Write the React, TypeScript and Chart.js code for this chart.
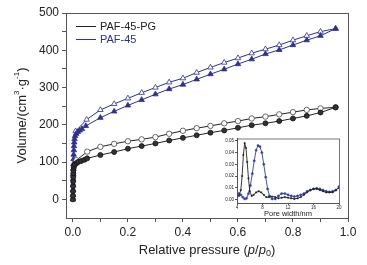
import React, { useEffect, useRef } from "react";
import { Chart, registerables } from "chart.js";
Chart.register(...registerables);

// ---- Main isotherm data ----
const pgAdsP = [0.0002, 0.0004, 0.0006, 0.0008, 0.001, 0.0013, 0.0016, 0.002, 0.003, 0.004, 0.008, 0.015, 0.02, 0.03, 0.042, 0.052, 0.1, 0.15, 0.2, 0.25, 0.3, 0.35, 0.4, 0.45, 0.5, 0.55, 0.6, 0.65, 0.7, 0.75, 0.8, 0.85, 0.9, 0.955];
const pgAdsV = [0, 10, 22, 35, 48, 60, 70, 78, 85, 90, 94, 98, 101, 103, 106, 110, 119, 127, 136, 143, 150, 158, 165, 172, 179, 185, 192, 199, 204, 210, 217, 224, 233, 247];
const pgDesP = [0.955, 0.9, 0.85, 0.8, 0.75, 0.7, 0.65, 0.6, 0.55, 0.5, 0.45, 0.4, 0.35, 0.3, 0.25, 0.2, 0.15, 0.1, 0.052, 0.013];
const pgDesV = [247, 244, 240, 234, 228, 222, 217, 210, 204, 197, 191, 184, 176, 167, 161, 156, 149, 141, 128, 105];

const pafAdsP = [0.0002, 0.0004, 0.0006, 0.0008, 0.001, 0.0013, 0.0016, 0.002, 0.0025, 0.003, 0.0035, 0.004, 0.005, 0.006, 0.008, 0.012, 0.018, 0.025, 0.033, 0.047, 0.1, 0.15, 0.2, 0.25, 0.3, 0.35, 0.4, 0.45, 0.5, 0.55, 0.6, 0.65, 0.7, 0.75, 0.8, 0.85, 0.9, 0.955];
const pafAdsV = [0, 12, 25, 40, 55, 68, 82, 95, 108, 120, 132, 143, 153, 162, 170, 176, 181, 185, 189, 197, 219, 236, 252, 267, 282, 296, 308, 322, 336, 349, 363, 376, 390, 401, 414, 427, 439, 458];
const pafDesP = [0.955, 0.9, 0.85, 0.8, 0.75, 0.7, 0.65, 0.6, 0.55, 0.5, 0.45, 0.4, 0.35, 0.3, 0.25, 0.2, 0.15, 0.1, 0.05, 0.01];
const pafDesV = [458, 450, 439, 427, 414, 403, 392, 379, 367, 354, 340, 325, 314, 300, 286, 271, 256, 240, 214, 183];

const xTicks = [0, 0.1, 0.2, 0.3, 0.4, 0.5, 0.6, 0.7, 0.8, 0.9, 1.0];
const yTicks = [0, 50, 100, 150, 200, 250, 300, 350, 400, 450, 500];

// ---- Inset pore size distribution ----
const psdPgW = [4.0, 4.3, 4.6, 4.8, 5.0, 5.2, 5.4, 5.6, 5.8, 6.0, 6.3, 6.6, 7.0, 7.4, 7.8, 8.2, 8.6, 9.0, 9.5, 10.0, 10.5, 11.0, 11.5, 12.0, 12.5, 13.0, 13.5, 14.0, 14.5, 15.0, 15.5, 16.0, 16.5, 17.0, 17.5, 18.0, 18.5, 19.0, 19.5, 20.0];
const psdPgV = [0.004, 0.003, 0.008, 0.02, 0.038, 0.048, 0.044, 0.032, 0.018, 0.007, 0.003, 0.004, 0.006, 0.007, 0.006, 0.004, 0.002, 0.002, 0.0025, 0.002, 0.001, 0.0015, 0.002, 0.0015, 0.001, 0.0005, 0.001, 0.002, 0.004, 0.006, 0.008, 0.009, 0.009, 0.008, 0.007, 0.006, 0.006, 0.006, 0.008, 0.01];
const psdPafW = [4.0, 4.3, 4.6, 4.9, 5.2, 5.5, 5.8, 6.1, 6.4, 6.7, 7.0, 7.3, 7.6, 7.9, 8.2, 8.5, 8.8, 9.1, 9.5, 10.0, 10.5, 11.0, 11.5, 12.0, 12.5, 13.0, 13.5, 14.0, 14.5, 15.0, 15.5, 16.0, 16.5, 17.0, 17.5, 18.0, 18.5, 19.0, 19.5, 20.0];
const psdPafV = [0.005, 0.005, 0.004, 0.002, 0.0005, 0.001, 0.005, 0.012, 0.022, 0.033, 0.042, 0.046, 0.045, 0.04, 0.03, 0.019, 0.009, 0.003, 0.0005, 0.0005, 0.003, 0.005, 0.005, 0.004, 0.003, 0.0025, 0.003, 0.004, 0.005, 0.007, 0.008, 0.009, 0.0095, 0.009, 0.008, 0.007, 0.0065, 0.007, 0.008, 0.011];
const insetXTicks = [4, 8, 12, 16, 20];
const insetYTicks = [0, 0.01, 0.02, 0.03, 0.04, 0.05];

const legendLabels = ["PAF-45-PG", "PAF-45"];

const BLUE = "#2E3192";
const BLACK = "#222222";
const FONT = 'Arial, "Liberation Sans", sans-serif';

const pts = (xs: number[], ys: number[]) => xs.map((x, i) => ({ x, y: ys[i] }));

type Seg = { t: string; italic?: boolean; size: number; dy?: number };
function drawRich(ctx: CanvasRenderingContext2D, segs: Seg[], cx: number, cy: number) {
  let total = 0;
  const widths = segs.map((s) => {
    ctx.font = `${s.italic ? "italic " : ""}${s.size}px ${FONT}`;
    const w = ctx.measureText(s.t).width;
    total += w;
    return w;
  });
  let x = cx - total / 2;
  ctx.textBaseline = "middle";
  ctx.textAlign = "left";
  segs.forEach((s, i) => {
    ctx.font = `${s.italic ? "italic " : ""}${s.size}px ${FONT}`;
    ctx.fillText(s.t, x, cy + (s.dy || 0));
    x += widths[i];
  });
}

const mainPlugin = {
  id: "mainDecor",
  afterDraw(chart: any) {
    const { ctx, chartArea } = chart;
    const { left, right, top, bottom } = chartArea;
    ctx.save();
    ctx.strokeStyle = "#555";
    ctx.lineWidth = 1;
    ctx.strokeRect(left + 0.5, top + 0.5, right - left, bottom - top);
    // x title
    ctx.fillStyle = "#222";
    drawRich(
      ctx,
      [
        { t: "Relative pressure (", size: 13 },
        { t: "p", italic: true, size: 13 },
        { t: "/", size: 13 },
        { t: "p", italic: true, size: 13 },
        { t: "0", size: 9, dy: 4 },
        { t: ")", size: 13 },
      ],
      (left + right) / 2,
      250
    );
    // y title
    ctx.save();
    ctx.translate(22, (top + bottom) / 2);
    ctx.rotate(-Math.PI / 2);
    drawRich(
      ctx,
      [
        { t: "Volume/(cm", size: 13 },
        { t: "3", size: 8, dy: -5 },
        { t: "·g", size: 13 },
        { t: "-1", size: 8, dy: -5 },
        { t: ")", size: 13 },
      ],
      0,
      0
    );
    ctx.restore();
    // legend
    const colors = [BLACK, BLUE];
    const ys = [26, 39];
    legendLabels.forEach((lab, i) => {
      ctx.strokeStyle = colors[i];
      ctx.lineWidth = 1;
      ctx.beginPath();
      ctx.moveTo(76, ys[i] + 0.5);
      ctx.lineTo(96, ys[i] + 0.5);
      ctx.stroke();
      ctx.fillStyle = i === 0 ? "#222" : BLUE;
      ctx.font = `11px ${FONT}`;
      ctx.textAlign = "left";
      ctx.textBaseline = "middle";
      ctx.fillText(lab, 100, ys[i] + 1);
    });
    ctx.restore();
  },
};

const insetPlugin = {
  id: "insetDecor",
  afterDraw(chart: any) {
    const { ctx, chartArea } = chart;
    const { left, right, top, bottom } = chartArea;
    ctx.save();
    ctx.strokeStyle = "#555";
    ctx.lineWidth = 0.8;
    ctx.strokeRect(left + 0.5, top + 0.5, right - left, bottom - top);
    ctx.fillStyle = "#222";
    drawRich(ctx, [{ t: "Pore width/nm", size: 7.5 }], (left + right) / 2, 79.5);
    ctx.restore();
  },
};

export default function App() {
  const mainRef = useRef<HTMLCanvasElement>(null);
  const insetRef = useRef<HTMLCanvasElement>(null);

  useEffect(() => {
    const main = new Chart(mainRef.current!, {
      type: "scatter",
      data: {
        datasets: [
          {
            label: "PAF-45-PG adsorption",
            data: pts(pgAdsP, pgAdsV),
            showLine: true,
            borderColor: BLACK,
            borderWidth: 1,
            pointStyle: "circle",
            pointRadius: 2.5,
            pointBackgroundColor: "#333",
            pointBorderColor: "#111",
            pointBorderWidth: 0.8,
          },
          {
            label: "PAF-45-PG desorption",
            data: pts(pgDesP, pgDesV),
            showLine: true,
            borderColor: BLACK,
            borderWidth: 1,
            pointStyle: "circle",
            pointRadius: 2.7,
            pointBackgroundColor: "#fff",
            pointBorderColor: "#444",
            pointBorderWidth: 0.8,
          },
          {
            label: "PAF-45 adsorption",
            data: pts(pafAdsP, pafAdsV),
            showLine: true,
            borderColor: BLUE,
            borderWidth: 1,
            pointStyle: "triangle",
            pointRadius: 3.2,
            pointBackgroundColor: BLUE,
            pointBorderColor: BLUE,
            pointBorderWidth: 0.8,
          },
          {
            label: "PAF-45 desorption",
            data: pts(pafDesP, pafDesV),
            showLine: true,
            borderColor: BLUE,
            borderWidth: 1,
            pointStyle: "triangle",
            pointRadius: 3.2,
            pointBackgroundColor: "#fff",
            pointBorderColor: BLUE,
            pointBorderWidth: 0.8,
          },
        ],
      },
      options: {
        animation: false,
        responsive: false,
        maintainAspectRatio: false,
        layout: { padding: { left: 0, right: 19, top: 13, bottom: 0 } },
        plugins: { legend: { display: false }, tooltip: { enabled: false } },
        scales: {
          x: {
            type: "linear",
            min: -0.025,
            max: 1.0,
            afterBuildTicks: (s: any) => {
              s.ticks = xTicks.map((v) => ({ value: v }));
            },
            afterFit: (s: any) => {
              s.height = 47;
            },
            ticks: {
              autoSkip: false,
              maxRotation: 0,
              padding: 3,
              color: "#222",
              font: { family: FONT, size: 12 },
              callback: (v: any) => (Math.round(Number(v) * 10) % 2 === 0 ? Number(v).toFixed(1) : ""),
            },
            grid: { drawOnChartArea: false, tickLength: 4, color: "#555" },
            border: { color: "#555" },
          },
          y: {
            type: "linear",
            min: -50,
            max: 500,
            afterBuildTicks: (s: any) => {
              s.ticks = yTicks.map((v) => ({ value: v }));
            },
            afterFit: (s: any) => {
              s.width = 66;
            },
            ticks: {
              autoSkip: false,
              padding: 3,
              color: "#222",
              font: { family: FONT, size: 12 },
              callback: (v: any) => (Number(v) % 100 === 0 ? String(v) : ""),
            },
            grid: { drawOnChartArea: false, tickLength: 4, color: "#555" },
            border: { color: "#555" },
          },
        },
      },
      plugins: [mainPlugin],
    } as any);

    const inset = new Chart(insetRef.current!, {
      type: "scatter",
      data: {
        datasets: [
          {
            label: "PAF-45-PG PSD",
            data: pts(psdPgW, psdPgV),
            showLine: true,
            borderColor: BLACK,
            borderWidth: 0.9,
            pointStyle: "rect",
            pointRadius: 0.9,
            pointBackgroundColor: BLACK,
            pointBorderColor: BLACK,
            pointBorderWidth: 0.5,
          },
          {
            label: "PAF-45 PSD",
            data: pts(psdPafW, psdPafV),
            showLine: true,
            borderColor: "#3340A8",
            borderWidth: 0.9,
            pointStyle: "circle",
            pointRadius: 1.1,
            pointBackgroundColor: "#3340A8",
            pointBorderColor: "#3340A8",
            pointBorderWidth: 0.5,
          },
        ],
      },
      options: {
        animation: false,
        responsive: false,
        maintainAspectRatio: false,
        layout: { padding: { left: 0, right: 5, top: 4, bottom: 0 } },
        plugins: { legend: { display: false }, tooltip: { enabled: false } },
        scales: {
          x: {
            type: "linear",
            min: 4,
            max: 20,
            afterBuildTicks: (s: any) => {
              s.ticks = insetXTicks.map((v) => ({ value: v }));
            },
            afterFit: (s: any) => {
              s.height = 15;
            },
            ticks: {
              autoSkip: false,
              maxRotation: 0,
              padding: 0,
              color: "#222",
              font: { family: FONT, size: 4.5 },
            },
            grid: { drawOnChartArea: false, tickLength: 2, color: "#555" },
            border: { color: "#555" },
          },
          y: {
            type: "linear",
            min: -0.003,
            max: 0.052,
            afterBuildTicks: (s: any) => {
              s.ticks = insetYTicks.map((v) => ({ value: v }));
            },
            afterFit: (s: any) => {
              s.width = 15;
            },
            ticks: {
              autoSkip: false,
              padding: 1,
              color: "#222",
              font: { family: FONT, size: 4.5 },
              callback: (v: any) => Number(v).toFixed(2),
            },
            grid: { drawOnChartArea: false, tickLength: 2, color: "#555" },
            border: { color: "#555" },
          },
        },
      },
      plugins: [insetPlugin],
    } as any);

    return () => {
      main.destroy();
      inset.destroy();
    };
  }, []);

  return (
    <div style={{ position: "fixed", left: 0, top: 0, width: 367, height: 265, background: "#fff" }}>
      <canvas ref={mainRef} width={367} height={265} style={{ position: "absolute", left: 0, top: 0, width: 367, height: 265 }} />
      <canvas ref={insetRef} width={122} height={84} style={{ position: "absolute", left: 222, top: 134, width: 122, height: 84 }} />
    </div>
  );
}
